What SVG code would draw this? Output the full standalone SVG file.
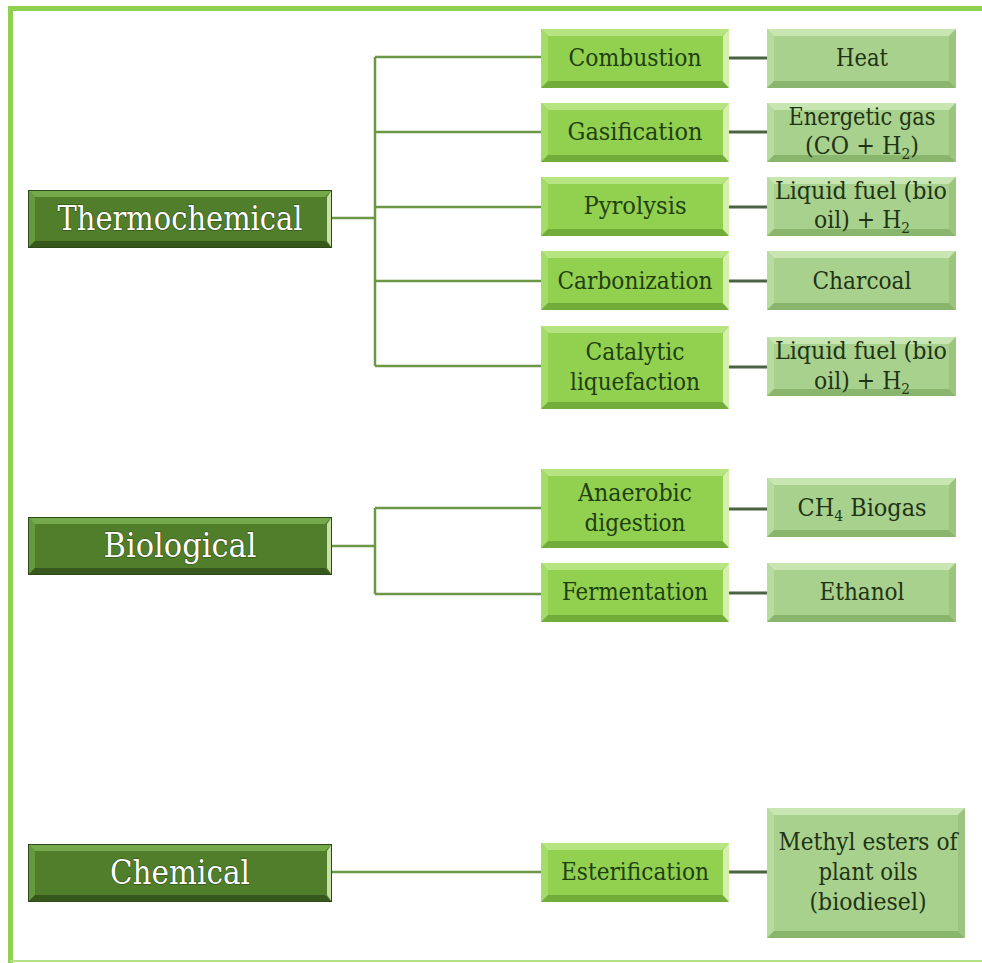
<svg xmlns="http://www.w3.org/2000/svg" width="982" height="963" viewBox="0 0 982 963">
<style>
  .frame { stroke: #8fd14f; fill: none; }
  .conn { stroke: #6a9845; stroke-width: 2.5; fill: none; }
  .conn2 { stroke: #4b6340; stroke-width: 3; fill: none; }
  text { font-family: "DejaVu Serif", serif; text-anchor: middle; }
  .t-top { font-size: 33px; fill: #ffffff; stroke: #2d4a17; stroke-width: 1.2; paint-order: stroke; }
  .t-mid { font-size: 24px; fill: #1f4010; }
  .t-res { font-size: 24px; fill: #1f3414; }
  .sub { font-size: 15px; }
  .dk-b { fill: #507e2b; } .dk-t { fill: #76a84c; } .dk-l { fill: #669a40; } .dk-bo { fill: #36581c; } .dk-r { fill: #c9e0a8; }
  .md-b { fill: #92d050; } .md-t { fill: #b6e480; } .md-l { fill: #a4dc68; } .md-bo { fill: #72ad3c; } .md-r { fill: #d6efac; }
  .rs-b { fill: #a9d18e; } .rs-t { fill: #c8e6b2; } .rs-l { fill: #b8dc9f; } .rs-bo { fill: #89b56c; } .rs-r { fill: #9cc47f; }
  .edge { fill: none; stroke: #2f4a1a; stroke-width: 1; }
</style>
<defs>
  <g id="bx-dark">
    <rect class="dk-b" width="304" height="58"/>
    <path class="dk-t" d="M0,0 h304 l-7,7 h-290 z"/>
    <path class="dk-l" d="M0,0 v58 l7,-7 v-44 z"/>
    <path class="dk-bo" d="M0,58 h304 l-7,-7 h-290 z"/>
    <path class="dk-r" d="M304,0 v58 l-5,-7 v-44 z"/>
    <rect class="edge" x="0.5" y="0.5" width="303" height="57"/>
  </g>
  <g id="bx-mid">
    <rect class="md-b" width="188" height="59"/>
    <path class="md-t" d="M0,0 h188 l-7,7 h-174 z"/>
    <path class="md-l" d="M0,0 v59 l7,-7 v-45 z"/>
    <path class="md-bo" d="M0,59 h188 l-7,-7 h-174 z"/>
    <path class="md-r" d="M188,0 v59 l-6,-7 v-45 z"/>
  </g>
  <g id="bx-mid83">
    <rect class="md-b" width="188" height="83"/>
    <path class="md-t" d="M0,0 h188 l-7,7 h-174 z"/>
    <path class="md-l" d="M0,0 v83 l7,-7 v-69 z"/>
    <path class="md-bo" d="M0,83 h188 l-7,-7 h-174 z"/>
    <path class="md-r" d="M188,0 v83 l-6,-7 v-69 z"/>
  </g>
  <g id="bx-mid79">
    <rect class="md-b" width="188" height="79"/>
    <path class="md-t" d="M0,0 h188 l-7,7 h-174 z"/>
    <path class="md-l" d="M0,0 v79 l7,-7 v-65 z"/>
    <path class="md-bo" d="M0,79 h188 l-7,-7 h-174 z"/>
    <path class="md-r" d="M188,0 v79 l-6,-7 v-65 z"/>
  </g>
  <g id="bx-res">
    <rect class="rs-b" width="189" height="59"/>
    <path class="rs-t" d="M0,0 h189 l-7,7 h-175 z"/>
    <path class="rs-l" d="M0,0 v59 l7,-7 v-45 z"/>
    <path class="rs-bo" d="M0,59 h189 l-7,-7 h-175 z"/>
    <path class="rs-r" d="M189,0 v59 l-7,-7 v-45 z"/>
  </g>
  <g id="bx-res130">
    <rect class="rs-b" width="198" height="130"/>
    <path class="rs-t" d="M0,0 h198 l-7,7 h-184 z"/>
    <path class="rs-l" d="M0,0 v130 l7,-7 v-116 z"/>
    <path class="rs-bo" d="M0,130 h198 l-7,-7 h-184 z"/>
    <path class="rs-r" d="M198,0 v130 l-7,-7 v-116 z"/>
  </g>
</defs>

<rect width="982" height="963" fill="#ffffff"/>
<g id="frame">
  <line class="frame" x1="8" y1="8.5" x2="982" y2="8.5" stroke-width="5"/>
  <line class="frame" x1="10.5" y1="6" x2="10.5" y2="963" stroke-width="5"/>
  <line x1="10" y1="961" x2="982" y2="961" stroke="#b4e184" stroke-width="2"/>
</g>

<g id="connectors">
  <path class="conn" d="M332,218 H375 M375,57 V366 M375,57 H541 M375,132 H541 M375,207 H541 M375,281 H541 M375,366 H541"/>
  <path class="conn" d="M332,546 H375 M375,508 V594 M375,508 H541 M375,594 H541"/>
  <path class="conn" d="M332,872 H541"/>
  <path class="conn2" d="M729,58 H767 M729,132 H767 M729,207 H767 M729,281 H767 M729,367 H767 M729,509 H767 M729,593 H767 M729,872 H767"/>
</g>

<g id="thermochemical">
  <use href="#bx-dark" x="28" y="190"/>
  <text class="t-top" x="180" y="230" textLength="245" lengthAdjust="spacingAndGlyphs">Thermochemical</text>
</g>
<g id="biological">
  <use href="#bx-dark" x="28" y="517"/>
  <text class="t-top" x="180" y="557" textLength="153" lengthAdjust="spacingAndGlyphs">Biological</text>
</g>
<g id="chemical">
  <use href="#bx-dark" x="28" y="844"/>
  <text class="t-top" x="180" y="884" textLength="140" lengthAdjust="spacingAndGlyphs">Chemical</text>
</g>

<g id="combustion">
  <use href="#bx-mid" x="541" y="29"/>
  <text class="t-mid" x="635" y="66" textLength="133" lengthAdjust="spacingAndGlyphs">Combustion</text>
</g>
<g id="gasification">
  <use href="#bx-mid" x="541" y="103"/>
  <text class="t-mid" x="635" y="140" textLength="135" lengthAdjust="spacingAndGlyphs">Gasification</text>
</g>
<g id="pyrolysis">
  <use href="#bx-mid" x="541" y="177"/>
  <text class="t-mid" x="635" y="214" textLength="103" lengthAdjust="spacingAndGlyphs">Pyrolysis</text>
</g>
<g id="carbonization">
  <use href="#bx-mid" x="541" y="251"/>
  <text class="t-mid" x="635" y="289" textLength="155" lengthAdjust="spacingAndGlyphs">Carbonization</text>
</g>
<g id="catalytic-liquefaction">
  <use href="#bx-mid83" x="541" y="326"/>
  <text class="t-mid" x="635" y="360" textLength="99" lengthAdjust="spacingAndGlyphs">Catalytic</text>
  <text class="t-mid" x="635" y="390" textLength="130" lengthAdjust="spacingAndGlyphs">liquefaction</text>
</g>
<g id="anaerobic-digestion">
  <use href="#bx-mid79" x="541" y="469"/>
  <text class="t-mid" x="635" y="501" textLength="114" lengthAdjust="spacingAndGlyphs">Anaerobic</text>
  <text class="t-mid" x="635" y="531" textLength="101" lengthAdjust="spacingAndGlyphs">digestion</text>
</g>
<g id="fermentation">
  <use href="#bx-mid" x="541" y="563"/>
  <text class="t-mid" x="635" y="600" textLength="146" lengthAdjust="spacingAndGlyphs">Fermentation</text>
</g>
<g id="esterification">
  <use href="#bx-mid" x="541" y="843"/>
  <text class="t-mid" x="635" y="880" textLength="148" lengthAdjust="spacingAndGlyphs">Esterification</text>
</g>

<g id="heat">
  <use href="#bx-res" x="767" y="29"/>
  <text class="t-res" x="862" y="66" textLength="52" lengthAdjust="spacingAndGlyphs">Heat</text>
</g>
<g id="energetic-gas">
  <use href="#bx-res" x="767" y="103"/>
  <text class="t-res" x="862" y="125" textLength="147" lengthAdjust="spacingAndGlyphs">Energetic gas</text>
  <text class="t-res" x="862" y="154" textLength="114" lengthAdjust="spacingAndGlyphs">(CO + H<tspan class="sub" dy="5">2</tspan><tspan dy="-5">)</tspan></text>
</g>
<g id="liquid-fuel-1">
  <use href="#bx-res" x="767" y="177"/>
  <text class="t-res" x="861" y="199" textLength="172" lengthAdjust="spacingAndGlyphs">Liquid fuel (bio</text>
  <text class="t-res" x="862" y="228" textLength="96" lengthAdjust="spacingAndGlyphs">oil) + H<tspan class="sub" dy="5">2</tspan></text>
</g>
<g id="charcoal">
  <use href="#bx-res" x="767" y="251"/>
  <text class="t-res" x="862" y="289" textLength="99" lengthAdjust="spacingAndGlyphs">Charcoal</text>
</g>
<g id="liquid-fuel-2">
  <use href="#bx-res" x="767" y="337"/>
  <text class="t-res" x="861" y="359" textLength="172" lengthAdjust="spacingAndGlyphs">Liquid fuel (bio</text>
  <text class="t-res" x="862" y="389" textLength="96" lengthAdjust="spacingAndGlyphs">oil) + H<tspan class="sub" dy="5">2</tspan></text>
</g>
<g id="ch4-biogas">
  <use href="#bx-res" x="767" y="478"/>
  <text class="t-res" x="862" y="516" textLength="129" lengthAdjust="spacingAndGlyphs">CH<tspan class="sub" dy="5">4</tspan><tspan dy="-5"> Biogas</tspan></text>
</g>
<g id="ethanol">
  <use href="#bx-res" x="767" y="563"/>
  <text class="t-res" x="862" y="600" textLength="85" lengthAdjust="spacingAndGlyphs">Ethanol</text>
</g>
<g id="methyl-esters">
  <use href="#bx-res130" x="767" y="808"/>
  <text class="t-res" x="868" y="850" textLength="179" lengthAdjust="spacingAndGlyphs">Methyl esters of</text>
  <text class="t-res" x="868" y="880" textLength="99" lengthAdjust="spacingAndGlyphs">plant oils</text>
  <text class="t-res" x="868" y="910" textLength="117" lengthAdjust="spacingAndGlyphs">(biodiesel)</text>
</g>
</svg>
